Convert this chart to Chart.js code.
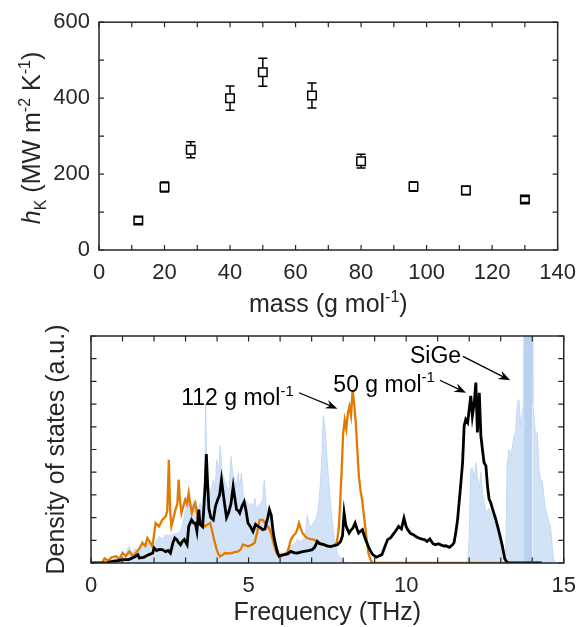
<!DOCTYPE html>
<html>
<head>
<meta charset="utf-8">
<script src="https://cdn.jsdelivr.net/npm/chart.js@4.4.1/dist/chart.umd.min.js"></script>
<style>
  body { margin: 0; background: #fff; }
  #wrap { position: relative; width: 586px; height: 627px; }
  canvas { position: absolute; left: 0; top: 0; }
</style>
</head>
<body>
<div id="wrap">
  <canvas id="massChart" width="586" height="627"></canvas>
  <canvas id="dosChart" width="586" height="627"></canvas>
</div>
<script>
// top panel: h_K against mass
let masses = [12, 20, 28, 40, 50, 65, 80, 96, 112, 130]
let hk = [78, 166, 264, 400, 468, 407, 234, 167, 157, 133]
let hkErr = [9, 13, 21, 32, 37, 33, 18, 12, 11, 8]

let massLabels = [0, 20, 40, 60, 80, 100, 120, 140]
let hkLabels = [0, 200, 400, 600]

// bottom panel: density of states, [frequency THz, dos]
let freqLabels = [0, 5, 10, 15]

let sigeDos = [
  [0,0],[0.45,0],[0.55,0.1],[0.75,0.15],[0.9,0.3],[1.05,0.25],[1.2,0.73],[1.3,0.45],[1.42,0.66],[1.52,0.55],
  [1.63,1.0],[1.72,0.7],[1.84,0.88],[2.0,0.73],[2.08,1.0],[2.16,1.17],[2.26,1.05],[2.37,1.25],[2.48,1.2],[2.58,1.25],
  [2.68,1.3],[2.78,1.32],[2.87,1.5],[2.94,1.9],[3.0,2.4],[3.05,2.93],[3.1,2.6],[3.15,2.8],[3.2,2.5],[3.26,2.8],
  [3.36,2.35],[3.46,2.64],[3.52,2.4],[3.57,3.08],[3.61,3.6],[3.64,7.0],[3.67,4.0],[3.73,3.37],[3.8,3.1],[3.88,3.67],
  [3.94,3.2],[3.99,4.55],[4.05,4.0],[4.1,5.16],[4.16,4.0],[4.2,3.8],[4.3,3.37],[4.38,3.2],[4.44,4.7],[4.5,3.9],
  [4.54,3.8],[4.6,3.3],[4.67,3.96],[4.72,3.3],[4.77,3.96],[4.83,3.0],[4.88,2.8],[4.98,2.64],[5.05,2.5],[5.1,2.64],
  [5.15,2.4],[5.2,2.86],[5.25,2.3],[5.3,2.5],[5.4,2.64],[5.45,2.8],[5.5,3.67],[5.55,2.6],[5.61,1.76],[5.66,1.9],
  [5.71,2.2],[5.76,1.5],[5.82,0.88],[5.92,0.59],[6.03,0.44],[6.13,0.42],[6.24,0.55],[6.34,0.73],[6.45,0.85],[6.55,1.03],
  [6.65,0.95],[6.76,1.05],[6.82,1.5],[6.86,2.1],[6.92,1.7],[6.97,1.6],[7.05,1.75],[7.13,1.9],[7.2,2.3],[7.23,2.64],
  [7.28,3.5],[7.33,4.84],[7.37,6.5],[7.42,6.0],[7.47,5.0],[7.53,3.8],[7.59,2.8],[7.65,1.9],[7.7,1.3],[7.76,0.8],
  [7.82,0.44],[7.94,0.15],[8.05,0.05],[8.2,0],[11.9,0],[11.95,0.1],[12.0,1.2],[12.05,4.13],[12.1,4.2],[12.16,3.7],
  [12.21,4.43],[12.26,3.84],[12.32,3.25],[12.37,4.0],[12.42,3.1],[12.47,2.67],[12.53,2.23],[12.58,2.3],[12.63,2.4],[12.68,2.2],
  [12.74,2.1],[12.79,2.0],[12.84,1.8],[12.9,1.75],[12.95,1.64],[13.0,0.9],[13.05,0.1],[13.15,0],[13.18,2.0],[13.2,4.3],
  [13.26,5.0],[13.32,4.7],[13.37,5.15],[13.42,5.6],[13.47,5.75],[13.53,7.07],[13.58,7.2],[13.63,6.0],[13.68,6.6],[13.72,7.0],
  [13.74,12],[14.0,12],[14.02,7.0],[14.05,6.6],[14.1,5.6],[14.16,5.75],[14.21,4.13],[14.26,3.7],[14.32,3.6],[14.37,2.96],
  [14.42,2.4],[14.47,2.1],[14.53,1.8],[14.58,1.64],[14.63,0.76],[14.68,0.18],[14.74,0],[15,0]
]

let dos112 = [
  [0,0],[0.35,0],[0.43,0.2],[0.55,0.1],[0.65,0.25],[0.8,0.3],[0.9,0.15],[1.0,0.45],[1.1,0.3],[1.22,0.51],
  [1.32,0.3],[1.42,0.44],[1.52,0.6],[1.63,0.88],[1.72,0.75],[1.79,1.1],[1.88,0.9],[1.95,0.73],[2.05,1.76],[2.16,1.61],
  [2.26,1.9],[2.37,2.05],[2.42,2.3],[2.47,4.55],[2.51,2.3],[2.55,1.61],[2.62,2.0],[2.68,2.35],[2.74,2.6],[2.78,3.67],
  [2.82,2.8],[2.87,2.2],[2.93,2.5],[2.99,2.79],[3.05,2.6],[3.1,3.08],[3.15,2.6],[3.2,2.2],[3.26,2.5],[3.31,2.64],
  [3.36,2.2],[3.41,1.76],[3.5,1.8],[3.62,1.61],[3.7,1.7],[3.78,1.76],[3.83,1.5],[3.88,1.17],[3.94,0.85],[3.99,0.59],
  [4.04,0.4],[4.09,0.29],[4.17,0.35],[4.25,0.44],[4.35,0.42],[4.46,0.44],[4.56,0.48],[4.67,0.51],[4.75,0.6],[4.82,0.81],
  [4.9,0.78],[4.98,0.73],[5.1,0.8],[5.19,0.88],[5.28,1.4],[5.35,1.9],[5.45,1.9],[5.53,1.75],[5.61,1.61],[5.66,1.5],
  [5.71,1.32],[5.77,1.0],[5.82,0.73],[5.87,0.5],[5.92,0.37],[6.03,0.29],[6.13,0.35],[6.24,0.51],[6.3,0.8],[6.34,1.03],
  [6.42,1.2],[6.5,1.32],[6.55,1.5],[6.6,1.76],[6.66,1.5],[6.71,1.32],[6.78,1.2],[6.86,1.1],[6.96,1.05],[7.07,1.03],
  [7.18,0.95],[7.28,0.88],[7.4,0.8],[7.49,0.73],[7.6,0.72],[7.7,0.78],[7.8,0.9],[7.86,1.5],[7.9,2.5],[7.95,4.0],
  [8.0,5.7],[8.05,6.3],[8.1,5.9],[8.15,6.6],[8.2,6.9],[8.25,6.5],[8.3,7.6],[8.35,7.0],[8.4,6.2],[8.45,5.0],
  [8.5,3.8],[8.55,3.2],[8.6,2.8],[8.65,2.2],[8.7,1.6],[8.75,1.0],[8.8,0.45],[8.88,0.1],[8.95,0],[13.5,0]
]

let dos50 = [
  [0,0],[0.5,0],[0.67,0.07],[0.85,0.1],[1.02,0.15],[1.2,0.15],[1.31,0.22],[1.42,0.3],[1.49,0.37],[1.53,0.22],
  [1.67,0.25],[1.84,0.37],[1.96,0.44],[2.0,0.66],[2.08,0.55],[2.16,0.6],[2.26,0.59],[2.37,0.5],[2.45,0.55],[2.52,0.44],
  [2.6,0.9],[2.66,1.1],[2.72,1.03],[2.78,0.9],[2.84,0.8],[2.9,0.95],[2.96,1.03],[3.05,0.8],[3.1,1.61],[3.19,1.9],
  [3.26,1.76],[3.31,1.76],[3.36,1.4],[3.42,2.35],[3.46,1.7],[3.54,1.6],[3.57,2.2],[3.62,3.37],[3.66,4.8],[3.7,3.5],
  [3.74,2.4],[3.8,2.0],[3.88,1.9],[3.95,2.5],[4.02,2.79],[4.08,3.0],[4.14,3.67],[4.2,3.0],[4.25,2.49],[4.3,2.0],
  [4.36,2.2],[4.44,2.6],[4.51,3.37],[4.57,2.8],[4.62,2.35],[4.68,2.3],[4.72,2.2],[4.79,2.5],[4.86,2.7],[4.92,2.3],
  [4.98,1.76],[5.06,1.6],[5.14,1.39],[5.22,1.7],[5.3,1.61],[5.38,1.55],[5.45,1.47],[5.52,1.5],[5.56,1.76],[5.61,2.0],
  [5.66,2.35],[5.72,2.1],[5.77,1.47],[5.82,1.03],[5.87,0.73],[5.92,0.45],[5.97,0.29],[6.05,0.35],[6.13,0.37],[6.24,0.4],
  [6.34,0.51],[6.45,0.45],[6.55,0.44],[6.65,0.48],[6.76,0.51],[6.9,0.55],[7.02,0.59],[7.1,0.7],[7.18,0.95],[7.25,0.85],
  [7.39,0.81],[7.5,0.75],[7.6,0.72],[7.7,0.76],[7.82,0.8],[7.92,0.95],[7.98,1.2],[8.03,2.2],[8.08,1.7],[8.13,1.5],
  [8.19,1.32],[8.25,1.45],[8.31,1.54],[8.38,1.76],[8.44,1.5],[8.49,1.32],[8.55,1.4],[8.61,1.47],[8.67,1.2],[8.72,1.0],
  [8.82,0.66],[8.9,0.45],[8.94,0.37],[9.05,0.26],[9.12,0.3],[9.23,0.37],[9.32,0.7],[9.41,1.03],[9.5,1.1],[9.58,1.25],
  [9.66,1.4],[9.76,1.61],[9.85,1.5],[9.93,1.98],[10.0,1.6],[10.05,1.47],[10.14,1.3],[10.23,1.25],[10.32,1.15],[10.4,1.1],
  [10.5,1.05],[10.58,1.03],[10.66,0.95],[10.75,1.06],[10.85,0.85],[10.93,0.8],[11.02,0.85],[11.1,0.8],[11.2,0.75],[11.26,0.76],
  [11.37,0.69],[11.47,0.8],[11.52,0.9],[11.58,1.4],[11.63,1.9],[11.68,2.67],[11.74,3.6],[11.79,4.43],[11.84,6.04],[11.89,6.33],
  [11.95,6.19],[12.0,6.77],[12.05,7.36],[12.1,6.48],[12.16,7.07],[12.21,7.95],[12.26,5.75],[12.32,7.5],[12.37,5.6],[12.42,5.0],
  [12.47,4.43],[12.53,4.28],[12.58,3.4],[12.63,2.82],[12.68,2.67],[12.74,2.38],[12.84,1.94],[12.95,1.35],[13.05,0.76],[13.13,0.18],
  [13.2,0.03],[13.3,0],[14.3,0]
]

// labels with arrows: text position and arrow tail/head, in data units
let notes = [
  { parts: [["112 g mol", ""], ["-1", "sup"]], at: [2.86, 6.95], tail: [6.6, 7.5], head: [7.82, 6.8] },
  { parts: [["50 g mol", ""], ["-1", "sup"]], at: [7.69, 7.55], tail: [11.07, 8.05], head: [11.9, 7.5] },
  { parts: [["SiGe", ""]], at: [10.12, 8.8], tail: [11.8, 9.1], head: [13.3, 8.05] }
]

let fontFam = "'Liberation Sans', Arial, Helvetica, sans-serif"
let axisColor = "#262626"

Chart.defaults.font.family = fontFam
Chart.defaults.font.size = 22
Chart.defaults.color = axisColor

function richText(ctx, parts, x, y, size, align, color) {
    let small = Math.round(size * 0.64)
    let fontOf = s => (s === "i" ? "italic " : "") + (s === "sup" || s === "sub" ? small : size) + "px " + fontFam
    let w = 0
    parts.forEach(p => { ctx.font = fontOf(p[1]); w += ctx.measureText(p[0]).width })
    let cx = align === "center" ? x - w / 2 : x
    ctx.fillStyle = color
    ctx.textAlign = "left"
    ctx.textBaseline = "alphabetic"
    parts.forEach(p => {
        ctx.font = fontOf(p[1])
        let dy = p[1] === "sup" ? -size * 0.42 : (p[1] === "sub" ? size * 0.22 : 0)
        ctx.fillText(p[0], cx, y + dy)
        cx += ctx.measureText(p[0]).width
    })
}

// box around the plot with inward ticks on all four sides
const boxTicks = {
    id: "boxTicks",
    afterDatasetsDraw(chart, args, opts) {
        let ctx = chart.ctx
        let a = chart.chartArea
        let x = chart.scales.x, y = chart.scales.y
        let len = opts.len || 5
        ctx.save()
        ctx.strokeStyle = axisColor
        ctx.lineWidth = 1.2
        ctx.beginPath()
        x.ticks.forEach((t, i) => {
            let px = x.getPixelForTick(i)
            ctx.moveTo(px, a.bottom); ctx.lineTo(px, a.bottom - len)
            ctx.moveTo(px, a.top); ctx.lineTo(px, a.top + len)
        })
        y.ticks.forEach((t, i) => {
            let py = y.getPixelForTick(i)
            ctx.moveTo(a.left, py); ctx.lineTo(a.left + len, py)
            ctx.moveTo(a.right, py); ctx.lineTo(a.right - len, py)
        })
        ctx.stroke()
        ctx.lineWidth = 1.5
        ctx.strokeRect(a.left, a.top, a.right - a.left, a.bottom - a.top)
        ctx.restore()
    }
}

const axisTitles = {
    id: "axisTitles",
    afterDraw(chart, args, opts) {
        let ctx = chart.ctx
        let a = chart.chartArea
        ctx.save()
        richText(ctx, opts.x, (a.left + a.right) / 2, opts.xBase, 25, "center", axisColor)
        ctx.translate(opts.yBase, opts.yMid || (a.top + a.bottom) / 2)
        ctx.rotate(-Math.PI / 2)
        richText(ctx, opts.y, 0, 0, 25, "center", axisColor)
        ctx.restore()
    }
}

const errorBars = {
    id: "errorBars",
    afterDatasetsDraw(chart) {
        let ctx = chart.ctx
        let x = chart.scales.x, y = chart.scales.y
        let half = 4.8
        ctx.save()
        ctx.strokeStyle = "#000"
        ctx.lineWidth = 1.5
        ctx.beginPath()
        for (let i = 0; i < masses.length; i++) {
            let px = x.getPixelForValue(masses[i])
            let pc = y.getPixelForValue(hk[i])
            let pt = y.getPixelForValue(hk[i] + hkErr[i])
            let pb = y.getPixelForValue(hk[i] - hkErr[i])
            if (pt < pc - half) { ctx.moveTo(px, pt); ctx.lineTo(px, pc - half) }
            if (pb > pc + half) { ctx.moveTo(px, pb); ctx.lineTo(px, pc + half) }
            ctx.moveTo(px - 4.5, pt); ctx.lineTo(px + 4.5, pt)
            ctx.moveTo(px - 4.5, pb); ctx.lineTo(px + 4.5, pb)
        }
        ctx.stroke()
        ctx.restore()
    }
}

function drawArrow(ctx, x0, y0, x1, y1) {
    let ang = Math.atan2(y1 - y0, x1 - x0)
    let L = 12, W = 4.5
    let bx = x1 - L * Math.cos(ang), by = y1 - L * Math.sin(ang)
    ctx.beginPath()
    ctx.moveTo(x0, y0)
    ctx.lineTo(x1 - 6 * Math.cos(ang), y1 - 6 * Math.sin(ang))
    ctx.stroke()
    ctx.beginPath()
    ctx.moveTo(x1, y1)
    ctx.lineTo(bx - W * Math.sin(ang), by + W * Math.cos(ang))
    ctx.lineTo(x1 - 0.65 * L * Math.cos(ang), y1 - 0.65 * L * Math.sin(ang))
    ctx.lineTo(bx + W * Math.sin(ang), by - W * Math.cos(ang))
    ctx.closePath()
    ctx.fill()
}

const arrowNotes = {
    id: "arrowNotes",
    afterDatasetsDraw(chart) {
        let ctx = chart.ctx
        let x = chart.scales.x, y = chart.scales.y
        ctx.save()
        ctx.strokeStyle = "#000"
        ctx.fillStyle = "#000"
        ctx.lineWidth = 1.3
        notes.forEach(n => {
            richText(ctx, n.parts, x.getPixelForValue(n.at[0]), y.getPixelForValue(n.at[1]), 23, "left", "#000")
            drawArrow(ctx, x.getPixelForValue(n.tail[0]), y.getPixelForValue(n.tail[1]),
                x.getPixelForValue(n.head[0]), y.getPixelForValue(n.head[1]))
        })
        ctx.restore()
    }
}

function toPoints(list) {
    return list.map(p => ({ x: p[0], y: p[1] }))
}

let massChart = new Chart(document.getElementById("massChart"), {
    type: "scatter",
    data: {
        datasets: [{
            data: masses.map((m, i) => ({ x: m, y: hk[i] })),
            pointStyle: "rect",
            pointRadius: 6,
            borderColor: "#000",
            borderWidth: 1.5,
            backgroundColor: "rgba(0,0,0,0)"
        }]
    },
    options: {
        responsive: false,
        animation: false,
        devicePixelRatio: 1,
        layout: { padding: { top: 19, right: 18, left: 0, bottom: 0 } },
        plugins: {
            legend: { display: false },
            tooltip: { enabled: false },
            boxTicks: { len: 5 },
            axisTitles: {
                x: [["mass (g mol", ""], ["-1", "sup"], [")", ""]],
                xBase: 312,
                y: [["h", "i"], ["K", "sub"], [" (MW m", ""], ["-2", "sup"], [" K", ""], ["-1", "sup"], [")", ""]],
                yBase: 40,
                yMid: 138
            }
        },
        scales: {
            x: {
                type: "linear", min: 0, max: 140,
                grid: { display: false, drawTicks: false },
                border: { display: false },
                ticks: {
                    stepSize: 10, autoSkip: false, maxRotation: 0, padding: 10,
                    callback: v => massLabels.includes(v) ? v : ""
                },
                afterFit: s => { s.height = 377 }
            },
            y: {
                min: 0, max: 600,
                grid: { display: false, drawTicks: false },
                border: { display: false },
                ticks: {
                    stepSize: 100, autoSkip: false, padding: 9,
                    callback: v => hkLabels.includes(v) ? v : ""
                },
                afterFit: s => { s.width = 99 }
            }
        }
    },
    plugins: [errorBars, boxTicks, axisTitles]
})

let bandBlue = "#b9d2f1"

let dosChart = new Chart(document.getElementById("dosChart"), {
    type: "line",
    data: {
        datasets: [
            { label: "50 g mol-1", data: toPoints(dos50), borderColor: "#000", borderWidth: 2.8 },
            { label: "112 g mol-1", data: toPoints(dos112), borderColor: "#e07b00", borderWidth: 2.3 },
            {
                label: "SiGe", data: toPoints(sigeDos), borderColor: "#c4d9f4", borderWidth: 1,
                backgroundColor: "#d3e3f7", fill: "origin",
                segment: {
                    backgroundColor: c => (c.p0.parsed.y > 10 && c.p1.parsed.y > 10) ? bandBlue : undefined
                }
            }
        ]
    },
    options: {
        responsive: false,
        animation: false,
        devicePixelRatio: 1,
        elements: { point: { radius: 0 }, line: { tension: 0 } },
        layout: { padding: { top: 336, right: 17, left: 0, bottom: 0 } },
        plugins: {
            legend: { display: false },
            tooltip: { enabled: false },
            boxTicks: { len: 5.5 },
            axisTitles: {
                x: [["Frequency (THz)", ""]],
                xBase: 620,
                y: [["Density of states (a.u.)", ""]],
                yBase: 64
            }
        },
        scales: {
            x: {
                type: "linear", min: 0, max: 15,
                grid: { display: false, drawTicks: false },
                border: { display: false },
                ticks: {
                    stepSize: 1, autoSkip: false, maxRotation: 0, padding: 10,
                    callback: v => freqLabels.includes(v) ? v : ""
                },
                afterFit: s => { s.height = 64 }
            },
            y: {
                min: 0, max: 10,
                grid: { display: false, drawTicks: false },
                border: { display: false },
                ticks: { stepSize: 1, autoSkip: false, callback: () => "" },
                afterFit: s => { s.width = 91 }
            }
        }
    },
    plugins: [boxTicks, axisTitles, arrowNotes]
})
</script>
</body>
</html>
